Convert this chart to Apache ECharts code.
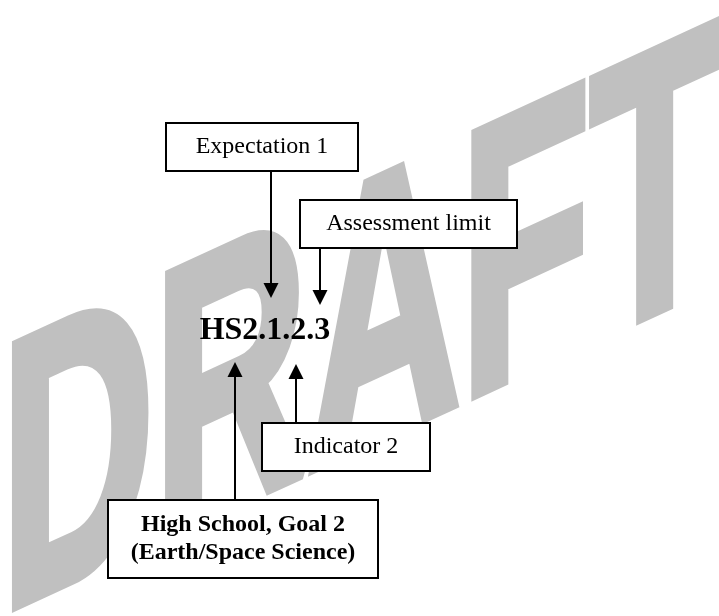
<!DOCTYPE html>
<html><head><meta charset="utf-8">
<script src="https://cdn.jsdelivr.net/npm/echarts@6/dist/echarts.min.js"></script>
<style>html,body{margin:0;padding:0;background:#fff}#c{width:719px;height:616px}</style>
</head><body><div id="c"></div>
<script>
// Diagram nodes (positions in diagram units, y grows downward)
const nodeNames = ['Expectation 1', 'Assessment limit', 'Indicator 2', 'High School, Goal 2\n(Earth/Space Science)', 'HS2.1.2.3'];
const nodeX = [262, 408.5, 346, 243, 265];
const nodeY = [147, 224, 447, 539, 331];
// Arrows: start point and tip
const arrowFrom = [[271, 171], [320, 248], [235, 500], [296, 423]];
const arrowTip = [[271, 298], [320, 305], [235, 362], [296, 364]];
const watermarkText = 'DRAFT';

// styles
const boxSizes = [[192, 48], [217, 48], [168, 48], [270, 78], [140, 40]];
const boxBold = [false, false, false, true, true];
const boxBorder = [true, true, true, true, false];
const boxFont = [24, 24, 24, 24, 32];
const headSize = 15;
const serif = '"Liberation Serif", "Times New Roman", serif';

const chart = echarts.init(document.getElementById('c'), null, {renderer: 'canvas'});

const lineData = arrowFrom.map((f, i) => {
  const t = arrowTip[i];
  const dx = t[0] - f[0], dy = t[1] - f[1];
  const L = Math.sqrt(dx * dx + dy * dy);
  const end = [t[0] - dx / L * headSize / 2, t[1] - dy / L * headSize / 2];
  return {coords: [f, end]};
});

chart.setOption({
  backgroundColor: '#ffffff',
  animation: false,
  grid: {left: 0, right: 0, top: 0, bottom: 0, containLabel: false},
  xAxis: {type: 'value', min: 0, max: 719, show: false},
  yAxis: {type: 'value', min: 0, max: 616, inverse: true, show: false},
  graphic: [{
    type: 'text',
    silent: true,
    z: -10,
    x: 1, y: 508,
    scaleX: 0.589, scaleY: 1.05,
    skewY: Math.atan(0.46),
    style: {
      text: watermarkText,
      x: 0, y: 0,
      fontSize: 360, fontWeight: 'bold', fontFamily: '"Liberation Sans", Arial, sans-serif',
      fill: '#c0c0c0', stroke: '#c0c0c0', lineWidth: 11,
      align: 'left', verticalAlign: 'middle'
    }
  }],
  series: [
    {
      type: 'lines',
      coordinateSystem: 'cartesian2d',
      z: 3,
      silent: true,
      symbol: ['none', 'triangle'],
      symbolSize: headSize,
      lineStyle: {color: '#000000', width: 2, opacity: 1, curveness: 0},
      data: lineData
    },
    {
      type: 'custom',
      coordinateSystem: 'cartesian2d',
      z: 4,
      silent: true,
      data: nodeNames.map((n, i) => [nodeX[i], nodeY[i]]),
      renderItem: (params, api) => {
        const i = params.dataIndex;
        const c = api.coord([api.value(0), api.value(1)]);
        const w = boxSizes[i][0], h = boxSizes[i][1];
        const children = [];
        if (boxBorder[i]) {
          children.push({
            type: 'rect',
            shape: {x: Math.round(c[0] - w / 2), y: Math.round(c[1] - h / 2), width: w, height: h},
            style: {fill: '#ffffff', stroke: '#000000', lineWidth: 2}
          });
        }
        children.push({
          type: 'text',
          style: {
            text: nodeNames[i], x: c[0], y: c[1], align: 'center', verticalAlign: 'middle',
            fill: '#000000', fontFamily: serif, fontSize: boxFont[i],
            fontWeight: boxBold[i] ? 'bold' : 'normal', lineHeight: 28
          }
        });
        return {type: 'group', children: children};
      }
    }
  ]
});
</script>
</body></html>
